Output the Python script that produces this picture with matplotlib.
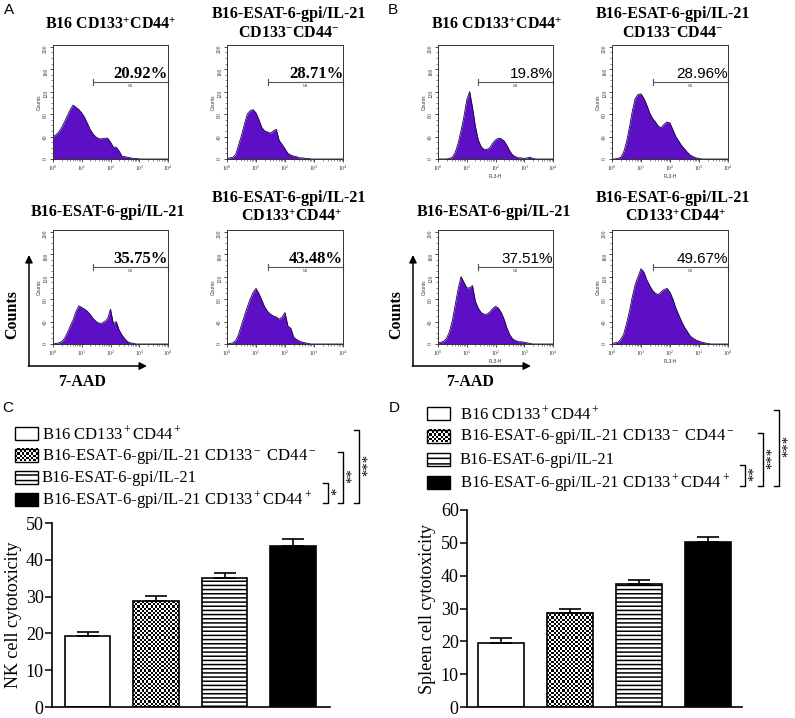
import numpy as np
import matplotlib
matplotlib.use('Agg')
import matplotlib.pyplot as plt
from matplotlib.patches import Rectangle
from matplotlib.ticker import MultipleLocator, LogLocator, NullFormatter

plt.rcParams['font.family'] = 'Liberation Serif'
plt.rcParams['mathtext.fontset'] = 'custom'
plt.rcParams['mathtext.rm'] = 'Liberation Serif'
plt.rcParams['mathtext.it'] = 'Liberation Serif:italic'
plt.rcParams['mathtext.bf'] = 'Liberation Serif:bold'
plt.rcParams['hatch.linewidth'] = 1.1

# ---- flow cytometry histograms: counts read every 0.1 decade of FL3-H (10^0 .. 10^4)
log_decades = np.linspace(0, 4, 41)

hist_a1 = [40, 43, 48, 56, 66, 77, 88, 96, 92, 88, 82, 74, 63, 52, 44, 39, 36, 36, 37, 37,
           30, 21, 21, 14, 5, 4, 3, 2, 1, 1, 0, 0, 0, 0, 0, 0, 0, 0, 0, 0, 0]
hist_a2 = [1, 2, 3, 8, 25, 42, 62, 80, 86, 88, 82, 70, 56, 50, 48, 46, 50, 53, 33, 26,
           18, 10, 7, 5, 4, 2, 2, 1, 1, 0, 0, 0, 0, 0, 0, 0, 0, 0, 0, 0, 0]
hist_a3 = [0, 1, 2, 4, 10, 20, 32, 43, 58, 68, 65, 62, 58, 52, 45, 40, 37, 37, 40, 45,
           62, 36, 40, 25, 16, 9, 4, 2, 1, 0, 0, 0, 0, 0, 0, 0, 0, 0, 0, 0, 0]
hist_a4 = [0, 1, 2, 6, 17, 34, 50, 66, 80, 92, 99, 90, 78, 66, 58, 53, 50, 48, 44, 48,
           56, 32, 28, 12, 8, 5, 3, 2, 1, 0, 0, 0, 0, 0, 0, 0, 0, 0, 0, 0, 0]
hist_b1 = [0, 0, 0, 0, 1, 3, 12, 28, 50, 75, 105, 120, 92, 58, 34, 22, 17, 17, 20, 28,
           34, 37, 36, 32, 24, 14, 7, 4, 2, 2, 1, 2, 3, 1, 0, 0, 0, 0, 0, 0, 0]
hist_b2 = [0, 0, 1, 3, 12, 30, 56, 85, 108, 115, 116, 108, 96, 82, 72, 66, 58, 56, 62, 66,
           64, 52, 40, 32, 24, 18, 12, 7, 4, 2, 1, 0, 0, 0, 0, 0, 0, 0, 0, 0, 0]
hist_b3 = [2, 3, 5, 10, 22, 42, 70, 98, 120, 110, 100, 100, 104, 76, 64, 56, 53, 53, 57, 63,
           67, 64, 56, 44, 28, 16, 9, 6, 4, 4, 3, 2, 1, 0, 0, 0, 0, 0, 0, 0, 0]
hist_b4 = [1, 2, 3, 8, 17, 36, 58, 84, 106, 120, 134, 128, 114, 104, 95, 90, 88, 93, 97, 99,
           92, 80, 64, 52, 40, 30, 22, 14, 10, 7, 5, 3, 2, 1, 0, 0, 0, 0, 0, 0, 0]

pct_a = ['20.92%', '28.71%', '35.75%', '43.48%']
pct_b = ['19.8%', '28.96%', '37.51%', '49.67%']

sub_title_1 = 'B16 CD133$^{\\mathbf{+}}$CD44$^{\\mathbf{+}}$'
sub_title_2 = ['B16-ESAT-6-gpi/IL-21', 'CD133$^{\\mathbf{-}}$CD44$^{\\mathbf{-}}$']
sub_title_3 = 'B16-ESAT-6-gpi/IL-21'
sub_title_4 = ['B16-ESAT-6-gpi/IL-21', 'CD133$^{\\mathbf{+}}$CD44$^{\\mathbf{+}}$']

# ---- cytotoxicity bars
groups = ['B16 CD133$^+$CD44$^+$',
          'B16-ESAT-6-gpi/IL-21 CD133$^-$ CD44$^-$',
          'B16-ESAT-6-gpi/IL-21',
          'B16-ESAT-6-gpi/IL-21 CD133$^+$CD44$^+$']
nk_mean = [19.2, 28.7, 35.0, 43.8]
nk_err = [1.3, 1.4, 1.5, 1.9]
spleen_mean = [19.6, 28.7, 37.5, 50.2]
spleen_err = [1.5, 1.0, 1.2, 1.5]
# (stars, group compared with the last group)
nk_sig = [('*', 2), ('**', 1), ('***', 0)]
spleen_sig = [('**', 2), ('***', 1), ('***', 0)]

W, H = 795, 718
PURPLE = '#5c0fc4'
GATE_LO, GATE_Y = 10 ** 1.4, 137

fig = plt.figure(figsize=(W / 100, H / 100), dpi=100)


def px_axes(l, t, r, b):
    return fig.add_axes([l / W, 1 - b / H, (r - l) / W, (b - t) / H])


def checker(ax, x0, y0, w, h, cell=2.0, zorder=1):
    p0 = ax.transData.transform((x0, y0))
    p1 = ax.transData.transform((x0 + w, y0 + h))
    nx = max(1, int(round(abs(p1[0] - p0[0]) / cell)))
    ny = max(1, int(round(abs(p1[1] - p0[1]) / cell)))
    board = np.add.outer(np.arange(ny), np.arange(nx)) % 2
    ax.imshow(board, cmap='gray', vmin=0, vmax=1, extent=(x0, x0 + w, y0, y0 + h),
              aspect='auto', interpolation='nearest', zorder=zorder)


def histogram(box, counts, pct, panel_a):
    l, r, t, b = box
    ax = px_axes(l, t, r, b)
    x = 10 ** log_decades
    ax.fill_between(x, counts, 0, color=PURPLE, lw=0)
    ax.plot(x, counts, color='#1a0040', lw=0.6)
    ax.set_xscale('log')
    ax.set_xlim(1, 1e4)
    ax.set_ylim(0, 203)
    ax.set_yticks([0, 40, 80, 120, 160, 200])
    ax.yaxis.set_minor_locator(MultipleLocator(10))
    ax.set_xticks([1, 10, 100, 1000, 10000])
    ax.set_xticklabels(['$10^0$', '$10^1$', '$10^2$', '$10^3$', '$10^4$'])
    ax.xaxis.set_minor_locator(LogLocator(base=10, subs=np.arange(2, 10)))
    ax.xaxis.set_minor_formatter(NullFormatter())
    ax.tick_params(which='major', labelsize=4, length=2.5, width=0.6, pad=1, colors='#333333')
    ax.tick_params(which='minor', length=1.4, width=0.4, colors='#333333')
    ax.tick_params(axis='y', labelrotation=90)
    ax.set_ylabel('Counts', fontsize=3.5, labelpad=1, family='Liberation Sans', color='#333333')
    if not panel_a:
        ax.set_xlabel('FL3-H', fontsize=3.5, labelpad=0.5, family='Liberation Sans', color='#333333')
    for s in ax.spines.values():
        s.set_linewidth(0.7)
        s.set_color('#333333')
    # M1 gate marker
    ax.plot([GATE_LO, 1e4], [GATE_Y, GATE_Y], color='#555555', lw=0.8, clip_on=False)
    for gx in (GATE_LO, 1e4 * 0.985):
        ax.plot([gx, gx], [GATE_Y - 5, GATE_Y + 5], color='#555555', lw=0.8, clip_on=False)
    ax.text(10 ** 2.7, GATE_Y - 3, 'M1', fontsize=2.8, ha='center', va='top',
            color='#555555', family='Liberation Sans')
    if panel_a:
        ax.text(1e4, GATE_Y + 1, pct, ha='right', va='bottom', fontsize=12, weight='bold')
    else:
        ax.text(1e4, GATE_Y + 2, pct, ha='right', va='bottom', fontsize=11,
                family='Liberation Sans')


cols_x = [(53, 168), (227, 343), (438, 553), (612, 728)]
rows_y = [(45, 159), (230, 344)]
for counts, pct, ci, ri in zip([hist_a1, hist_a2, hist_a3, hist_a4], pct_a, [0, 1, 0, 1], [0, 0, 1, 1]):
    histogram(cols_x[ci] + rows_y[ri], counts, pct, True)
for counts, pct, ci, ri in zip([hist_b1, hist_b2, hist_b3, hist_b4], pct_b, [2, 3, 2, 3], [0, 0, 1, 1]):
    histogram(cols_x[ci] + rows_y[ri], counts, pct, False)


def bar_panel(box, means, errs, xlim, ymax, ylabel):
    l, r, t, b = box
    ax = px_axes(l, t, r, b)
    ax.set_xlim(*xlim)
    ax.set_ylim(0, ymax)
    pos = np.arange(len(means))
    bars = ax.bar(pos, means, width=0.66, facecolor=['white', 'none', 'white', 'black'],
                  edgecolor='black', lw=1.2, zorder=2)
    bars[2].set_hatch('----')
    bx = bars[1]
    checker(ax, bx.get_x(), 0, bx.get_width(), bx.get_height(), cell=2.2, zorder=1)
    ax.set_xlim(*xlim)
    ax.set_ylim(0, ymax)
    ax.errorbar(pos, means, yerr=[np.zeros(len(errs)), errs], fmt='none', ecolor='black',
                elinewidth=1.2, capsize=8, capthick=1.2, zorder=3)
    ax.spines['top'].set_visible(False)
    ax.spines['right'].set_visible(False)
    ax.spines['left'].set_linewidth(1.2)
    ax.spines['bottom'].set_linewidth(1.2)
    ax.set_xticks([])
    ax.yaxis.set_major_locator(MultipleLocator(10))
    ax.tick_params(axis='y', labelsize=13, length=5, width=1.1, pad=1)
    ax.set_ylabel(ylabel, fontsize=13, labelpad=3)
    return ax


bar_panel((52, 330, 523, 707), nk_mean, nk_err, (-0.52, 3.54), 50, 'NK cell cytotoxicity')
bar_panel((467, 742, 510, 707), spleen_mean, spleen_err, (-0.49, 3.49), 60, 'Spleen cell cytotoxicity')

# ---- overlay in pixel coordinates for titles, arrows, legends and brackets
ov = fig.add_axes([0, 0, 1, 1])
ov.set_xlim(0, W)
ov.set_ylim(H, 0)
ov.axis('off')

for letter, lx, ly in [('A', 9, 10), ('B', 393, 10), ('C', 8, 408), ('D', 394, 408)]:
    ov.text(lx, ly, letter, family='Liberation Sans', fontsize=11, ha='center', va='center')

TS = 11.5
for cx in (111, 497):
    ov.text(cx, 25, sub_title_1, fontsize=TS, weight='bold', ha='center', va='center')
    ov.text(cx - 3, 212, sub_title_3, fontsize=TS, weight='bold', ha='center', va='center')
for cx in (289, 673):
    ov.text(cx, 14, sub_title_2[0], fontsize=TS, weight='bold', ha='center', va='center')
    ov.text(cx, 33, sub_title_2[1], fontsize=TS, weight='bold', ha='center', va='center')
    ov.text(cx, 198, sub_title_4[0], fontsize=TS, weight='bold', ha='center', va='center')
    ov.text(cx + 2, 217, sub_title_4[1], fontsize=TS, weight='bold', ha='center', va='center')

arrow = dict(arrowstyle='-|>', color='black', lw=1.1, mutation_scale=11, shrinkA=0, shrinkB=0)
for ox, txt_x in [(29, 82), (413, 470)]:
    ov.annotate('', xy=(ox, 255), xytext=(ox, 366), arrowprops=arrow)
    ov.annotate('', xy=(ox + 118, 366), xytext=(ox - 0.6, 366), arrowprops=arrow)
    ov.text(ox - 17, 315, 'Counts', rotation=90, fontsize=11.5, weight='bold', ha='center', va='center')
    ov.text(txt_x, 382, '7-AAD', fontsize=11.5, weight='bold', ha='center', va='center')


def legend_and_brackets(x_patch, gap, rows, sig, bracket_x):
    pw, ph = 23, 13
    for i, (label, y) in enumerate(zip(groups, rows)):
        x0, y0 = x_patch, y - ph / 2
        if i == 1:
            checker(ov, x0, y0, pw, ph, cell=2.2, zorder=2)
            ov.set_xlim(0, W)
            ov.set_ylim(H, 0)
            ov.add_patch(Rectangle((x0, y0), pw, ph, fill=False, ec='black', lw=1, zorder=3))
        else:
            fc = 'black' if i == 3 else 'white'
            p = Rectangle((x0, y0), pw, ph, fc=fc, ec='black', lw=1, zorder=3)
            if i == 2:
                p.set_hatch('---')
            ov.add_patch(p)
        ov.text(x0 + pw + gap, y + 1, label, fontsize=12, ha='left', va='center')
    for (stars, g), bxp in zip(sig, bracket_x):
        top, bot = rows[g] - 3, rows[-1] + 4
        if stars == sig[0][0] and g == 2:
            top = rows[g] + 6
        ov.plot([bxp - 5, bxp, bxp, bxp - 5], [top, top, bot, bot], color='black', lw=1)
        ov.text(bxp + 9, (top + bot) / 2 - 2, stars, rotation=90, fontsize=10.5,
                ha='center', va='center')


legend_and_brackets(15, 4, [433, 455, 477, 499], nk_sig, [328, 343, 359])
legend_and_brackets(427, 10, [413, 436, 459, 482], spleen_sig, [745, 763, 779])

fig.savefig('out.png', dpi=100)
